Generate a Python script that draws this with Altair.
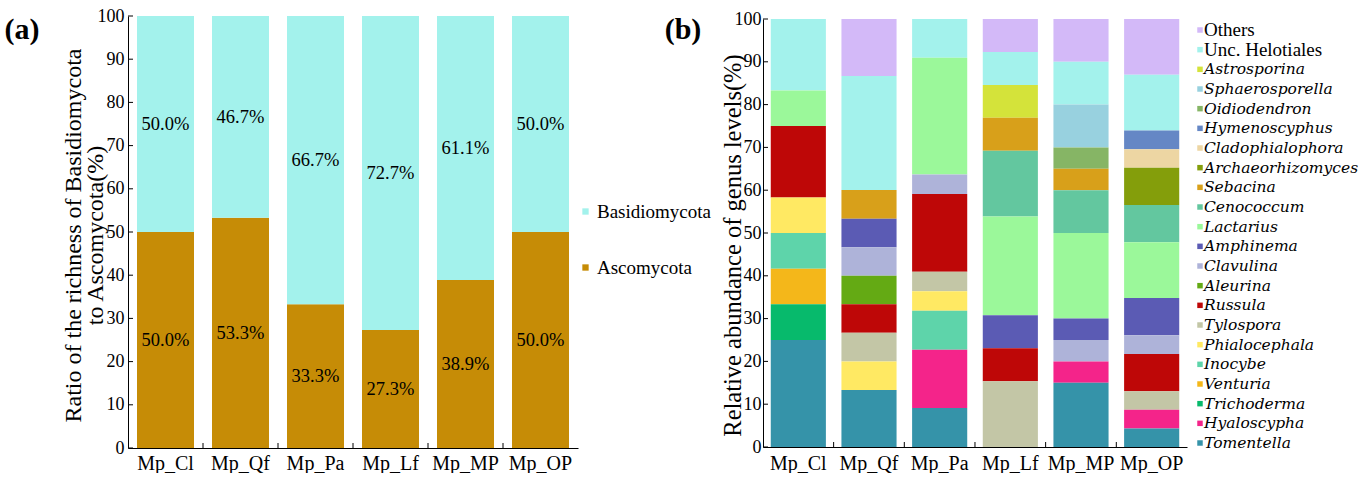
import altair as alt
import pandas as pd

FONT = "Liberation Serif"
ITALIC_FONT = "DejaVu Serif"

# ---------------- data ----------------
sites = ["Mp_Cl", "Mp_Qf", "Mp_Pa", "Mp_Lf", "Mp_MP", "Mp_OP"]
phyla = ["Basidiomycota", "Ascomycota"]
phyla_colors = ["#A3F2EC", "#C68C06"]
ascomycota = [50.0, 53.3, 33.3, 27.3, 38.9, 50.0]
basidiomycota = [50.0, 46.7, 66.7, 72.7, 61.1, 50.0]
y_ticks = [0, 10, 20, 30, 40, 50, 60, 70, 80, 90, 100]

genera = ["Others", "Unc. Helotiales", "Astrosporina", "Sphaerosporella",
          "Oidiodendron", "Hymenoscyphus", "Cladophialophora", "Archaeorhizomyces",
          "Sebacina", "Cenococcum", "Lactarius", "Amphinema", "Clavulina",
          "Aleurina", "Russula", "Tylospora", "Phialocephala", "Inocybe",
          "Venturia", "Trichoderma", "Hyaloscypha", "Tomentella"]
non_italic = ["Others", "Unc. Helotiales"]
genus_colors = ["#D3B9F8", "#A3F2EC", "#D4E33A", "#98D1DF",
                "#86B565", "#6587C5", "#EDD6A3", "#849E0B",
                "#D8A01A", "#63C79F", "#9BF89A", "#5B5BB4", "#AEB3D9",
                "#64AA14", "#BE0707", "#C3C6A6", "#FFE963", "#5ED4AA",
                "#F4B71A", "#07BA6C", "#F4248A", "#3593A9"]
# relative abundance (%) per genus, for sites in order Cl, Qf, Pa, Lf, MP, OP
genus_values = [
    [0, 13.33, 0, 7.69, 10, 13.04],        # Others
    [16.67, 26.67, 9.09, 7.69, 10, 13.04],  # Unc. Helotiales
    [0, 0, 0, 7.69, 0, 0],                  # Astrosporina
    [0, 0, 0, 0, 10, 0],                    # Sphaerosporella
    [0, 0, 0, 0, 5, 0],                     # Oidiodendron
    [0, 0, 0, 0, 0, 4.35],                  # Hymenoscyphus
    [0, 0, 0, 0, 0, 4.35],                  # Cladophialophora
    [0, 0, 0, 0, 0, 8.70],                  # Archaeorhizomyces
    [0, 6.67, 0, 7.69, 5, 0],               # Sebacina
    [0, 0, 0, 15.38, 10, 8.70],             # Cenococcum
    [8.33, 0, 27.27, 23.08, 20, 13.04],     # Lactarius
    [0, 6.67, 0, 7.69, 5, 8.70],            # Amphinema
    [0, 6.67, 4.55, 0, 5, 4.35],            # Clavulina
    [0, 6.67, 0, 0, 0, 0],                  # Aleurina
    [16.67, 6.67, 18.18, 7.69, 0, 8.70],    # Russula
    [0, 6.67, 4.55, 15.38, 0, 4.35],        # Tylospora
    [8.33, 6.67, 4.55, 0, 0, 0],            # Phialocephala
    [8.33, 0, 9.09, 0, 0, 0],               # Inocybe
    [8.33, 0, 0, 0, 0, 0],                  # Venturia
    [8.33, 0, 0, 0, 0, 0],                  # Trichoderma
    [0, 0, 13.64, 0, 5, 4.35],              # Hyaloscypha
    [25, 13.33, 9.09, 0, 15, 4.35],         # Tomentella
]

# ---------------- tables ----------------
rows_a = []
for i, s in enumerate(sites):
    base = 0.0
    for ph, v, o in (("Ascomycota", ascomycota[i], 0), ("Basidiomycota", basidiomycota[i], 1)):
        rows_a.append(dict(site=s, phylum=ph, value=v, order=o,
                           mid=base + v / 2, label=f"{v:.1f}%"))
        base += v
dfa = pd.DataFrame(rows_a)

rows_b = []
n_g = len(genera)
for gi, g in enumerate(genera):
    for si, s in enumerate(sites):
        v = genus_values[gi][si]
        if v > 0:
            rows_b.append(dict(site=s, genus=g, value=v, order=n_g - 1 - gi))
dfb = pd.DataFrame(rows_b)

leg_df = pd.DataFrame({"genus": genera,
                       "italic": [g not in non_italic for g in genera]})
ticks_df = pd.DataFrame({"t": y_ticks})
sites_df = pd.DataFrame({"site": sites[1:]})

# ---------------- panel a ----------------
WA, HA = 450, 432
xa = alt.X("site:N", sort=sites,
           scale=alt.Scale(paddingInner=0.24, paddingOuter=0.12),
           axis=alt.Axis(title=None, labelAngle=0, ticks=False, labelFontSize=20,
                         labelPadding=5, domainColor="black"))
ya_scale = alt.Scale(domain=[0, 100], nice=False)

bars_a = alt.Chart(dfa).mark_bar().encode(
    x=xa,
    y=alt.Y("value:Q", stack="zero", scale=ya_scale,
            axis=alt.Axis(values=y_ticks, ticks=False, grid=False, labelFontSize=18,
                          labelPadding=4,
                          title=["Ratio of  the richness of Basidiomycota", "to Ascomycota(%)"],
                          titleFontSize=24, titleLineHeight=22, titleX=-43, titleY=219,
                          titleBaseline="bottom", titleAlign="center", titleAngle=270)),
    color=alt.Color("phylum:N", scale=alt.Scale(domain=phyla, range=phyla_colors),
                    legend=alt.Legend(title=None, orient="none", legendX=448, legendY=186,
                                      symbolType="square", symbolSize=40, symbolStrokeWidth=0,
                                      labelFont=FONT, labelFontSize=19, labelColor="black",
                                      rowPadding=36, labelOffset=2, padding=0)),
    order=alt.Order("order:Q"),
)
text_a = alt.Chart(dfa).mark_text(font=FONT, fontSize=18.5, color="black").encode(
    x=alt.X("site:N", sort=sites), y=alt.Y("mid:Q", scale=ya_scale), text="label:N")
ytick_a = alt.Chart(ticks_df).mark_rule(color="black", strokeWidth=1).encode(
    y=alt.Y("t:Q", scale=ya_scale), x=alt.value(0), x2=alt.value(5))
xtick_a = alt.Chart(sites_df).mark_rule(color="black", strokeWidth=1, xOffset=-9).encode(
    x=alt.X("site:N", sort=sites, bandPosition=0), y=alt.value(HA), y2=alt.value(HA - 5))
lab_a = alt.Chart(pd.DataFrame({"t": ["(a)"]})).mark_text(
    font=FONT, fontSize=30, fontWeight="bold", color="black", align="center",
    baseline="middle").encode(text="t:N", x=alt.value(-106), y=alt.value(14))
lab_b = alt.Chart(pd.DataFrame({"t": ["(b)"]})).mark_text(
    font=FONT, fontSize=30, fontWeight="bold", color="black", align="center",
    baseline="middle").encode(text="t:N", x=alt.value(555), y=alt.value(14))

panel_a = alt.layer(bars_a, text_a, ytick_a, xtick_a, lab_a, lab_b).properties(width=WA, height=HA)

# ---------------- panel b ----------------
WB, HB = 424, 431
xb = alt.X("site:N", sort=sites,
           scale=alt.Scale(paddingInner=0.22, paddingOuter=0.11),
           axis=alt.Axis(title=None, labelAngle=0, ticks=False, labelFontSize=20,
                         labelPadding=6, domainColor="black"))
# plot of panel b starts a little below the top of the view
yb_scale = alt.Scale(domain=[0, 100], nice=False, range=[HB, 3])
color_b = alt.Scale(domain=genera, range=genus_colors)

bars_b = alt.Chart(dfb).mark_bar().encode(
    x=xb,
    y=alt.Y("value:Q", stack="zero", scale=yb_scale,
            axis=alt.Axis(values=y_ticks, ticks=False, grid=False, labelFontSize=18,
                          labelPadding=2,
                          title="Relative abundance of genus levels(%)",
                          titleFontSize=24.5, titleX=-18, titleY=229,
                          titleBaseline="bottom", titleAlign="center", titleAngle=270)),
    color=alt.Color("genus:N", scale=color_b, legend=None),
    order=alt.Order("order:Q"),
)
ytick_b = alt.Chart(ticks_df).mark_rule(color="black", strokeWidth=1).encode(
    y=alt.Y("t:Q", scale=yb_scale), x=alt.value(0), x2=alt.value(5))
xtick_b = alt.Chart(sites_df).mark_rule(color="black", strokeWidth=1, xOffset=-7.8).encode(
    x=alt.X("site:N", sort=sites, bandPosition=0), y=alt.value(HB), y2=alt.value(HB - 5))

leg_y = alt.Y("genus:N", sort=genera, axis=None,
              scale=alt.Scale(type="point", range=[14, 427], padding=0))
leg_sym = alt.Chart(leg_df).mark_square(size=30, opacity=1).encode(
    x=alt.value(437), y=leg_y, color=alt.Color("genus:N", scale=color_b, legend=None))
leg_txt_n = alt.Chart(leg_df).transform_filter("!datum.italic").mark_text(
    font=FONT, fontSize=19, color="black", align="left", baseline="middle").encode(
    x=alt.value(441), y=leg_y, text="genus:N")
leg_txt_i = alt.Chart(leg_df).transform_filter("datum.italic").mark_text(
    font=ITALIC_FONT, fontSize=15.5, fontStyle="italic", color="black", align="left",
    baseline="middle").encode(x=alt.value(441), y=leg_y, text="genus:N")
legend_b = alt.layer(leg_sym, leg_txt_n, leg_txt_i)

plot_b = alt.layer(bars_b, ytick_b, xtick_b)
panel_b = alt.layer(plot_b, legend_b).resolve_scale(
    y="independent").properties(width=WB, height=HB)

chart = alt.hconcat(panel_a, panel_b, spacing=8).resolve_scale(
    color="independent", x="independent", y="independent"
).properties(
    padding={"left": 4, "top": 7, "right": 0, "bottom": 0}
).configure_axis(
    labelFont=FONT, titleFont=FONT, labelColor="black", titleColor="black",
    domainColor="black", titleFontWeight="normal"
).configure_view(strokeWidth=0)

chart.save("out.html", embed_options={"renderer": "svg", "actions": False})
